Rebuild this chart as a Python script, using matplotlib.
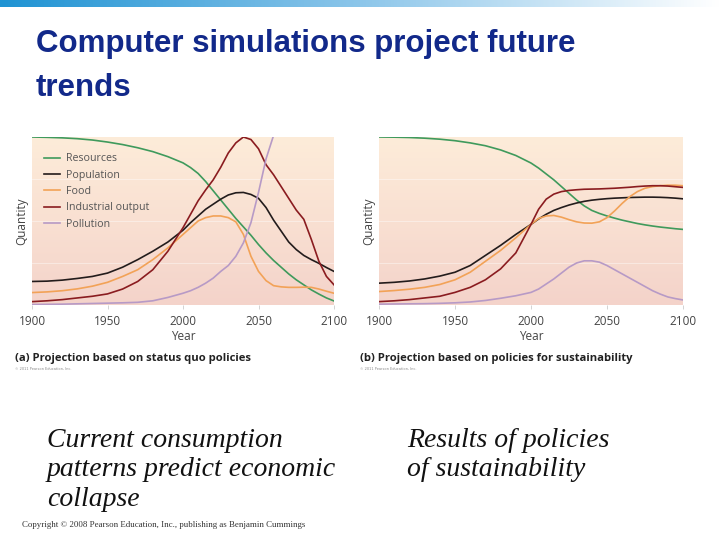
import numpy as np
import matplotlib
matplotlib.use("Agg")
import matplotlib.pyplot as plt
from matplotlib.colors import LinearSegmentedColormap

# (a) status quo projection, quantity on a 0-100 scale
years_a = [1900, 1910, 1920, 1930, 1940, 1950, 1960, 1970, 1980, 1990, 2000, 2005, 2010, 2015, 2020,
           2025, 2030, 2035, 2040, 2045, 2050, 2055, 2060, 2065, 2070, 2075, 2080, 2085, 2090, 2095, 2100]
resources_a = [100, 99.8, 99.5, 99, 98.2, 97, 95.5, 93.6, 91.3, 88.3, 84.6, 81.8, 78.3, 73.5, 68,
               62.5, 57, 51.5, 46.5, 41.5, 36, 31, 26.5, 22.5, 18.5, 15, 12, 9, 6.5, 4.2, 2.4]
population_a = [14, 14.2, 14.8, 15.8, 17, 19, 22.5, 27, 32, 37.5, 44.5, 49, 53, 57, 60,
                63, 65.5, 66.8, 67, 65.8, 63.5, 58, 50.5, 44, 37.5, 33, 29.5, 27, 24.8, 22.3, 20]
food_a = [7.4, 7.8, 8.5, 9.6, 11.2, 13.5, 17, 21, 27, 34, 42, 46, 50, 52, 53,
          53, 52, 49.5, 42, 29, 20, 14.5, 11.5, 10.8, 10.5, 10.5, 10.6, 10.5, 9.5, 8.2, 7]
industrial_a = [2, 2.5, 3.2, 4.2, 5.2, 6.6, 9.5, 14, 21, 32, 46, 54, 62, 68.5, 74.5,
                82, 90.5, 96.5, 100, 98.5, 93, 83.5, 77.5, 70.5, 63.5, 56.5, 51, 39, 26, 17, 12]
years_poll_a = [1900, 1910, 1920, 1930, 1940, 1950, 1960, 1970, 1980, 1990, 2000, 2005, 2010, 2015,
                2020, 2025, 2030, 2035, 2040, 2045, 2050, 2055, 2060]
pollution_a = [0.3, 0.4, 0.5, 0.7, 0.9, 1.1, 1.3, 1.6, 2.5, 4.5, 7, 8.5, 10.5, 13,
               16, 20, 23.5, 29, 37, 49, 67, 87, 101]

# (b) sustainability projection
years_b = years_a
resources_b = [100, 99.9, 99.7, 99.3, 98.7, 97.8, 96.5, 94.8, 92.3, 89, 84.5, 81.5, 78, 74.5, 70.5,
               66.5, 62.5, 59, 56.3, 54.5, 53, 51.7, 50.5, 49.5, 48.5, 47.7, 47, 46.4, 45.9, 45.4, 45]
population_b = [13, 13.5, 14.3, 15.5, 17.2, 19.5, 23.5, 29.5, 35.5, 42, 48, 51.2, 54, 56.3, 58,
                59.5, 60.7, 61.7, 62.4, 62.9, 63.3, 63.6, 63.8, 64, 64.1, 64.2, 64.2, 64.1, 63.9, 63.6, 63.2]
food_b = [8, 8.6, 9.4, 10.5, 12.2, 15, 19.5, 26, 32.5, 40, 48, 51.5, 53, 53.3, 52.3,
          50.8, 49.5, 48.8, 48.7, 49.5, 52, 56, 60.5, 64.5, 67.5, 69.5, 70.5, 71, 71.3, 71.3, 71]
industrial_b = [2, 2.5, 3.2, 4.2, 5.2, 7.5, 10.5, 15, 21.5, 31, 48, 57, 63, 66, 67.5,
                68.2, 68.6, 68.9, 69, 69.1, 69.3, 69.5, 69.8, 70.1, 70.5, 70.8, 71, 71, 70.8, 70.4, 70]
pollution_b = [0.5, 0.6, 0.7, 0.8, 1.0, 1.3, 1.8, 2.7, 4, 5.5, 7.5, 9.5, 12.5, 15.5, 19,
               22.5, 25, 26.3, 26.3, 25.5, 23.5, 21, 18.5, 16, 13.5, 11, 8.5, 6.5, 4.8, 3.8, 3]

xticks = [1900, 1950, 2000, 2050, 2100]
labels = ["Resources", "Population", "Food", "Industrial output", "Pollution"]
colors = ["#3f9a5c", "#231c1c", "#f2a257", "#8a1c20", "#b79ac6"]

fig = plt.figure(figsize=(7.2, 5.4), dpi=100)

# blue bar across the top of the slide
bar = fig.add_axes([0, 1 - 7 / 540, 1, 7 / 540])
bar.imshow(np.linspace(0, 1, 256)[None, :], aspect="auto",
           cmap=LinearSegmentedColormap.from_list("bar", ["#1f93d3", "#8cc6ea", "#ffffff"]))
bar.axis("off")

fig.text(36 / 720, 1 - 66 / 540, "Computer simulations project future\ntrends",
         fontsize=22.5, fontweight="bold", color="#12298a", family="Liberation Sans",
         va="center", ha="left", linespacing=1.58)

bg = LinearSegmentedColormap.from_list("bg", ["#fdecd9", "#f9e0d2", "#f4d3ca"])
tick_font = dict(family="Open Sans", color="#444444")


def panel(rect, series, legend=False):
    ax = fig.add_axes(rect)
    # row 0 of the gradient sits at the top of the plot
    ax.imshow(np.linspace(0, 1, 200)[:, None], aspect="auto", cmap=bg,
              extent=[1900, 2100, 0, 100], origin="upper", zorder=0)
    for y in [25, 50, 75]:
        ax.axhline(y, color="white", lw=0.6, alpha=0.5, zorder=1)
    for (yrs, vals), lab, c in zip(series, labels, colors):
        ax.plot(yrs, vals, color=c, lw=1.2, label=lab, zorder=2)
    ax.set_xlim(1900, 2100)
    ax.set_ylim(0, 100)
    for s in ax.spines.values():
        s.set_visible(False)
    ax.set_yticks([])
    ax.set_xticks(xticks)
    ax.set_xticklabels([str(t) for t in xticks], fontsize=8.5, **tick_font)
    ax.tick_params(axis="x", length=3, width=0.6, color="#cccccc", pad=4, direction="out")
    ax.set_xlabel("Year", fontsize=8.5, labelpad=2, **tick_font)
    ax.set_ylabel("Quantity", fontsize=8.5, labelpad=3, **tick_font)
    if legend:
        ax.legend(loc="upper left", bbox_to_anchor=(8 / 302, 1 - 12 / 168), frameon=False,
                  borderaxespad=0, handlelength=1.5, handletextpad=0.55, labelspacing=0.5,
                  labelcolor="#555555", prop={"family": "Open Sans", "size": 7.7})
    return ax


ax1 = panel([32 / 720, 1 - 305 / 540, 302 / 720, 168 / 540],
            [(years_a, resources_a), (years_a, population_a), (years_a, food_a),
             (years_a, industrial_a), (years_poll_a, pollution_a)], legend=True)
ax2 = panel([379 / 720, 1 - 305 / 540, 304 / 720, 168 / 540],
            [(years_b, resources_b), (years_b, population_b), (years_b, food_b),
             (years_b, industrial_b), (years_b, pollution_b)])

fig.text(15 / 720, 1 - 358 / 540, "(a) Projection based on status quo policies",
         fontsize=8.1, fontweight="bold", family="Open Sans", color="#222222", va="center")
fig.text(15 / 720, 1 - 369 / 540, "© 2011 Pearson Education, Inc.", fontsize=2.5,
         color="#888888", va="center")
fig.text(360 / 720, 1 - 358 / 540, "(b) Projection based on policies for sustainability",
         fontsize=8.1, fontweight="bold", family="Open Sans", color="#222222", va="center")
fig.text(360 / 720, 1 - 369 / 540, "© 2011 Pearson Education, Inc.", fontsize=2.5,
         color="#888888", va="center")

serif = dict(family="Liberation Serif", style="italic", fontsize=20, color="#111111",
             va="center", ha="left", linespacing=1.22)
fig.text(47 / 720, 1 - 470 / 540, "Current consumption\npatterns predict economic\ncollapse", **serif)
fig.text(407 / 720, 1 - 455 / 540, "Results of policies\nof sustainability", **serif)

fig.text(22 / 720, 1 - 525 / 540,
         "Copyright © 2008 Pearson Education, Inc., publishing as Benjamin Cummings",
         family="Liberation Serif", fontsize=6.4, color="#333333", va="center")

fig.savefig("out.png", dpi=100)
